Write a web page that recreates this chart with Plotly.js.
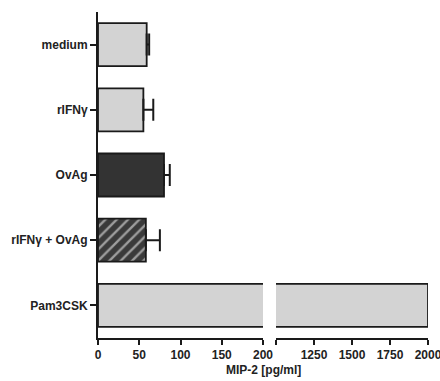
<!DOCTYPE html>
<html><head><meta charset="utf-8">
<script src="https://cdn.plot.ly/plotly-3.0.1.min.js"></script>
<style>html,body{margin:0;padding:0;background:#fff}#chart{width:440px;height:381px}</style>
</head><body><div id="chart"></div>
<script>
const categories = ["medium", "rIFNγ", "OvAg", "rIFNγ + OvAg", "Pam3CSK"];
const values = [59, 55, 80, 58, 2000];
const errors = [3, 12, 7, 17, 0];
const leftTicks = [0, 50, 100, 150, 200];
const rightTicks = [1000, 1250, 1500, 1750, 2000];
const rightTickText = ["", "1250", "1500", "1750", "2000"];

const fillColors = ["#d3d3d3", "#d3d3d3", "#333333", "#3a3a3a", "#d3d3d3"];
const patterns = ["", "", "", "/", ""];
const font = {family: "Liberation Sans, Arial, sans-serif", size: 12, color: "#222"};

const traces = [
  {
    type: "bar", orientation: "h", y: categories, x: values,
    xaxis: "x", yaxis: "y", width: 0.66,
    marker: {color: fillColors, line: {color: "#1a1a1a", width: 1.8},
      pattern: {shape: patterns, fgcolor: "#b0b0b0", bgcolor: "#3a3a3a", size: 8, solidity: 0.3, fillmode: "overlay"}},
    error_x: {type: "data", array: errors, arrayminus: errors.map(() => 0), symmetric: false,
      color: "#1a1a1a", thickness: 2, width: 11},
    hoverinfo: "none", showlegend: false
  },
  {
    type: "bar", orientation: "h", y: [categories[4]], x: [values[4]],
    xaxis: "x2", yaxis: "y", width: 0.66,
    marker: {color: fillColors[4], line: {color: "#1a1a1a", width: 1.8}},
    hoverinfo: "none", showlegend: false
  }
];

const axisCommon = {
  showgrid: false, zeroline: false, showline: true, linecolor: "#1a1a1a", linewidth: 2,
  ticks: "outside", ticklen: 5, tickwidth: 2, tickcolor: "#1a1a1a", ticklabeloverflow: "allow",
  tickfont: {family: font.family, size: 12, color: "#222", weight: "bold"}, fixedrange: true
};

const layout = {
  width: 440, height: 381,
  margin: {l: 98, r: 12, t: 12, b: 43},
  paper_bgcolor: "#fff", plot_bgcolor: "#fff",
  barmode: "overlay",
  font: font,
  xaxis: Object.assign({}, axisCommon, {domain: [0, 0.5], range: [0, 200], tickvals: leftTicks, anchor: "y"}),
  xaxis2: Object.assign({}, axisCommon, {domain: [0.5394, 1], range: [1000, 2000], tickvals: rightTicks, ticktext: rightTickText, anchor: "y"}),
  yaxis: Object.assign({}, axisCommon, {range: [4.5, -0.5], type: "category", categoryorder: "array", categoryarray: categories, anchor: "x", ticklen: 6}),
  annotations: [{
    text: "<b>MIP-2 [pg/ml]</b>", xref: "paper", yref: "paper", x: 0.5, y: 0, yshift: -32,
    xanchor: "center", yanchor: "middle", showarrow: false,
    font: {family: font.family, size: 12, color: "#222"}
  }]
};

Plotly.newPlot("chart", traces, layout, {displayModeBar: false, staticPlot: true});
</script></body></html>
